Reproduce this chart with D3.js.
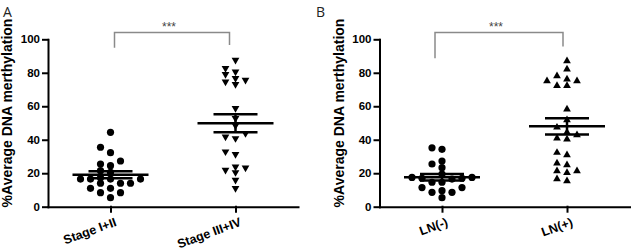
<!DOCTYPE html>
<html lang="en">
<head>
<meta charset="UTF-8">
<title>Average DNA methylation</title>
<script src="https://cdn.jsdelivr.net/npm/d3@7/dist/d3.min.js"></script>
<style>
    body{
        margin: 0;
        background: #fff;
    }
    svg{
        display: block;
    }
    .axis text{
        font-family: "Liberation Sans", Arial, sans-serif;
        font-weight: bold;
        font-size: 11.5px;
        fill: #000;
    }
    .xAxis text{
        font-size: 12.5px;
    }
    .axis path, .axis line{
        stroke: #000;
        stroke-width: 2;
        stroke-linecap: square;
    }
    .yLabel{
        font-family: "Liberation Sans", Arial, sans-serif;
        font-weight: bold;
        font-size: 14px;
    }
    .letter{
        font-family: "Open Sans", sans-serif;
        font-size: 14px;
        fill: #222;
    }
    .stars{
        font-family: "Liberation Sans", Arial, sans-serif;
        font-size: 12px;
        fill: #444;
    }
</style>
</head>
<body>
<svg id="main" width="635" height="250"></svg>
<script>
    // values (% average DNA methylation)
    const stageEarly = [44.4, 35.5, 32.3, 27.3, 25.5, 24.5, 21.5, 20.5, 17.3, 16.5, 16.5, 16.5, 16.5, 14, 14, 14, 11, 11, 8.4, 8.4, 5.4]
    const stageLate = [87.6, 82.7, 80.6, 79.1, 76.7, 75.7, 74.7, 73.1, 58.8, 52.8, 48.5, 43.8, 41.8, 40.8, 32.9, 31.3, 23.9, 23.3, 21.9, 20.5, 15.9, 11.0]
    const lnNeg = [35.2, 34.3, 27.3, 25.5, 23.3, 19.5, 17.5, 17.5, 17, 17, 16.5, 14.6, 14.6, 11.4, 11.4, 9.6, 8.6, 8.6, 5.4]
    const lnPos = [87.0, 82.1, 78.1, 76.1, 75.1, 75.1, 72.3, 72.3, 58.2, 51.8, 47.4, 44.4, 42.8, 40.9, 40.3, 32.3, 30.9, 25.9, 24.9, 21.3, 21.3, 20.3, 16.5, 15.4]

    const stageCategories = ["Stage I+II", "Stage III+IV"]
    const lnCategories = ["LN(-)", "LN(+)"]
    const yTicks = [0, 20, 40, 60, 80, 100]
    const yLabel = "%Average DNA merthylation"
    const sigLabel = "***"
    const bracketTop = 104

    const plot = {top: 39.3, bottom: 206.7, width: 250}

    const panels = [
        {letter: "A", letterX: 3, labelX: 12, axisX: 48, categories: stageCategories,
            groups: [stageEarly, stageLate], shapes: ["circle", "down"], legs: [95, 96.6], inset: [4, -6]},
        {letter: "B", letterX: 316, labelX: 344, axisX: 379.5, categories: lnCategories,
            groups: [lnNeg, lnPos], shapes: ["circle", "up"], legs: [88.7, 95.7], inset: [-7, -4]}
    ]

    const svg = d3.select("svg#main")

    // simple grid beeswarm: lowest values first, fill centre column then alternate sides
    function swarm(values, y, minGap){
        const placed = []
        const cols = new Array(values.length)
        d3.range(values.length).sort((a, b) => values[a] - values[b]).forEach(i => {
            const py = y(values[i])
            for(let k = 0; ; k++){
                const c = k === 0 ? 0 : (k % 2 ? -Math.ceil(k / 2) : Math.ceil(k / 2))
                if(!placed.some(q => q.c === c && Math.abs(q.py - py) < minGap)){
                    placed.push({c, py})
                    cols[i] = c
                    break
                }
            }
        })
        return cols
    }

    function drawPanel(p){
        const g = svg.append("g")
        const y = d3.scaleLinear().domain([0, 100]).range([plot.bottom, plot.top])
        const x = d3.scalePoint().domain(p.categories)
            .range([p.axisX, p.axisX + plot.width]).padding(0.5)

        // points
        p.groups.forEach((vals, gi) => {
            const cx = x(p.categories[gi])
            const cols = swarm(vals, y, 5.5)
            const pts = g.append("g").selectAll(".pt")
                .data(vals)
                .enter()
            if(p.shapes[gi] === "circle"){
                pts.append("circle")
                    .attr("cx", (d, i) => cx + cols[i] * 10)
                    .attr("cy", d => y(d))
                    .attr("r", 3.6)
                    .attr("fill", "#000")
            }else{
                const rot = p.shapes[gi] === "down" ? 180 : 0
                pts.append("path")
                    .attr("d", d3.symbol(d3.symbolTriangle, 26))
                    .attr("transform", (d, i) => `translate(${cx + cols[i] * 10},${y(d)}) rotate(${rot})`)
                    .attr("fill", "#000")
            }

            // mean and SEM
            const m = d3.mean(vals)
            const sem = d3.deviation(vals) / Math.sqrt(vals.length)
            const err = g.append("g").attr("stroke", "#000").attr("stroke-width", 2.5)
            err.append("line").attr("x1", cx - 38).attr("x2", cx + 38).attr("y1", y(m)).attr("y2", y(m))
            ;[m - sem, m + sem].forEach(v => {
                err.append("line").attr("x1", cx - 22).attr("x2", cx + 22).attr("y1", y(v)).attr("y2", y(v))
            })
            err.append("line").attr("x1", cx).attr("x2", cx).attr("y1", y(m - sem)).attr("y2", y(m + sem))
        })

        // axes
        g.append("g")
            .attr("class", "axis yAxis")
            .attr("transform", `translate(${p.axisX},0)`)
            .call(d3.axisLeft(y).tickValues(yTicks).tickSize(5).tickSizeOuter(0).tickPadding(3))
        const xAxisGroup = g.append("g")
            .attr("class", "axis xAxis")
            .attr("transform", `translate(0,${plot.bottom})`)
            .call(d3.axisBottom(x).tickSize(5).tickSizeOuter(0))
        xAxisGroup.selectAll("text")
            .attr("text-anchor", "end")
            .attr("x", 0)
            .attr("y", 0)
            .attr("dy", "0.75em")
            .attr("transform", "translate(3,10) rotate(-20)")

        // y label
        g.append("text")
            .attr("class", "yLabel")
            .attr("text-anchor", "middle")
            .attr("transform", `translate(${p.labelX},113) rotate(-90)`)
            .text(yLabel)

        // panel letter
        g.append("text")
            .attr("class", "letter")
            .attr("x", p.letterX)
            .attr("y", 17)
            .text(p.letter)

        // significance bracket
        const x1 = x(p.categories[0]) + p.inset[0]
        const x2 = x(p.categories[1]) + p.inset[1]
        g.append("path")
            .attr("d", `M${x1},${y(p.legs[0])}V${y(bracketTop)}H${x2}V${y(p.legs[1])}`)
            .attr("fill", "none")
            .attr("stroke", "#8a8a8a")
            .attr("stroke-width", 1.5)
        g.append("text")
            .attr("class", "stars")
            .attr("text-anchor", "middle")
            .attr("x", (x1 + x2) / 2 - 3)
            .attr("y", 31)
            .text(sigLabel)
    }

    panels.forEach(drawPanel)
</script>
</body>
</html>
